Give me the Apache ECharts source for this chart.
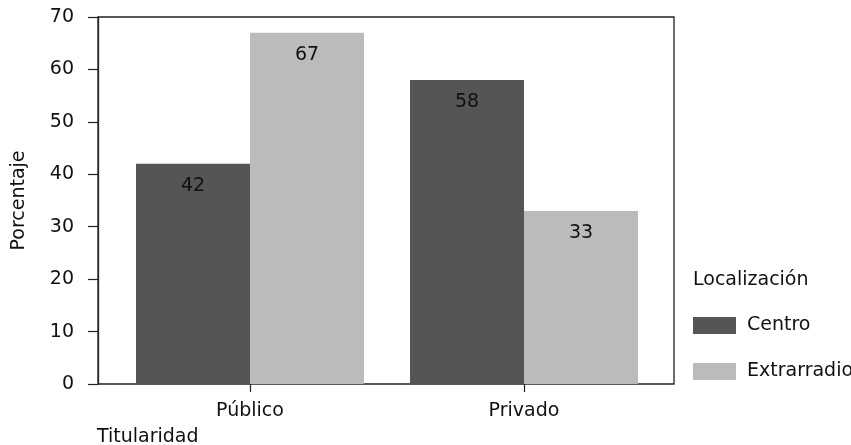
<!DOCTYPE html>
<html><head><meta charset="utf-8">
<script src="https://cdn.jsdelivr.net/npm/echarts@6/dist/echarts.min.js"></script>
<style>html,body{margin:0;padding:0;background:#fff}#c{width:851px;height:445px}</style>
</head><body><div id="c"></div>
<script>
const categories = ['Público', 'Privado'];
const centro = [42, 58];
const extrarradio = [67, 33];
const yTicks = [0, 10, 20, 30, 40, 50, 60, 70];
const FONT = 'DejaVu Sans';
const TXT = '#111';
const FS = 19;
const chart = echarts.init(document.getElementById('c'), null, {renderer: 'canvas'});
const barLabel = {show: true, position: 'insideTop', distance: 13, fontFamily: FONT, fontSize: FS, color: TXT};
chart.setOption({
  animation: false,
  backgroundColor: '#fff',
  textStyle: {fontFamily: FONT},
  title: [
    {text: 'Titularidad', left: 97, top: 428, padding: 0, textStyle: {fontFamily: FONT, fontSize: FS, fontWeight: 'normal', color: TXT}},
    {text: 'Localización', left: 693, top: 271, padding: 0, textStyle: {fontFamily: FONT, fontSize: FS, fontWeight: 'normal', color: TXT}}
  ],
  legend: {
    orient: 'vertical', left: 693, top: 316, padding: 0,
    itemWidth: 43, itemHeight: 17, itemGap: 27, icon: 'rect',
    textStyle: {fontFamily: FONT, fontSize: FS, color: TXT, padding: [0, 0, 0, 6]},
    data: ['Centro', 'Extrarradio']
  },
  grid: [
    {left: 98, right: 177, top: 17, height: 367, show: true, borderColor: '#222', borderWidth: 1.3, backgroundColor: 'transparent'},
    {left: 113, right: 190, top: 17, height: 367}
  ],
  xAxis: [
    {gridIndex: 0, type: 'category', data: categories, show: false},
    {gridIndex: 1, type: 'category', data: categories,
     axisLine: {show: false},
     axisTick: {show: true, alignWithLabel: true, length: 8, lineStyle: {color: '#222', width: 1.2}},
     axisLabel: {fontFamily: FONT, fontSize: FS, color: TXT, margin: 18}}
  ],
  yAxis: [
    {gridIndex: 0, type: 'value', min: yTicks[0], max: yTicks[yTicks.length - 1], interval: 10,
     name: 'Porcentaje', nameLocation: 'middle', nameGap: 69,
     nameTextStyle: {fontFamily: FONT, fontSize: FS, color: TXT},
     axisLine: {show: true, lineStyle: {color: '#222', width: 1.3}},
     axisTick: {show: true, length: 10, lineStyle: {color: '#222', width: 1.2}},
     axisLabel: {fontFamily: FONT, fontSize: FS, color: TXT, margin: 24},
     splitLine: {show: false}},
    {gridIndex: 1, type: 'value', min: yTicks[0], max: yTicks[yTicks.length - 1], interval: 10, show: false, splitLine: {show: false}}
  ],
  series: [
    {name: 'Centro', type: 'bar', xAxisIndex: 1, yAxisIndex: 1, data: centro, barWidth: 114, barGap: '0%',
     itemStyle: {color: '#555555'}, label: barLabel},
    {name: 'Extrarradio', type: 'bar', xAxisIndex: 1, yAxisIndex: 1, data: extrarradio, barWidth: 114, barGap: '0%',
     itemStyle: {color: '#bbbbbb'}, label: barLabel}
  ]
});
</script></body></html>
